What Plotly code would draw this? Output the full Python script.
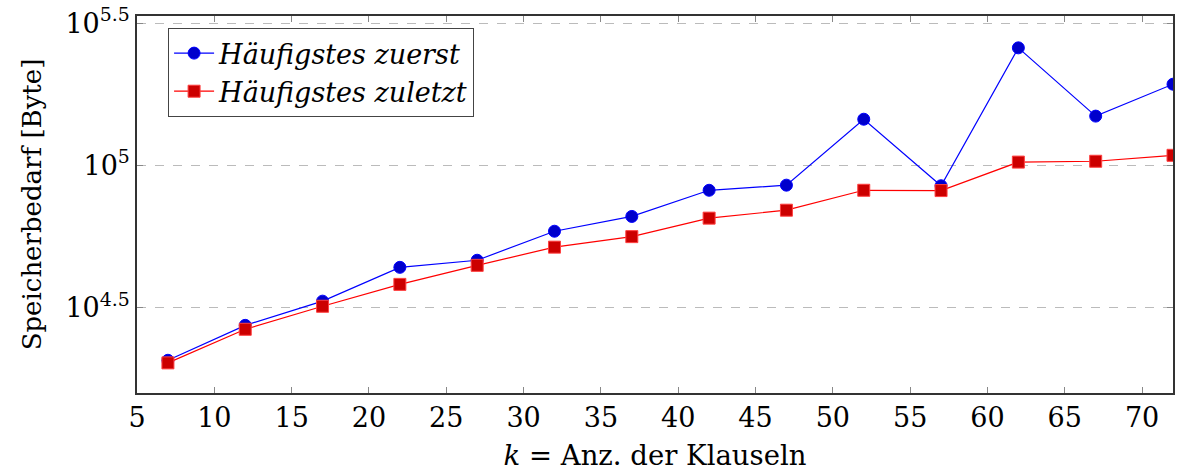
import numpy as np
import plotly.graph_objects as go

k_values = [7, 12, 17, 22, 27, 32, 37, 42, 47, 52, 57, 62, 67, 72]
zuerst_bytes = [20610, 27350, 33270, 43750, 46340, 58610, 66070, 81660, 85110,
                145200, 84720, 258800, 148900, 192800]
zuletzt_bytes = [20180, 26490, 31920, 38110, 44460, 51520, 56100, 65160, 69500,
                 81660, 81470, 102600, 103300, 108400]
series_names = ["Häufigstes zuerst", "Häufigstes zuletzt"]
y_tick_exponents = ["4.5", "5", "5.5"]
x_tick_values = [5, 10, 15, 20, 25, 30, 35, 40, 45, 50, 55, 60, 65, 70]

FONT = "DejaVu Serif"
W, H = 1177, 476
ml, mr, mt, mb = 137, 2, 16, 83

fig = go.Figure()
fig.add_trace(go.Scatter(
    x=k_values, y=zuerst_bytes, mode="lines+markers", name=series_names[0],
    line=dict(color="#0000ff", width=1.2),
    marker=dict(symbol="circle", size=12, color="#0000cc",
                line=dict(color="#0000ff", width=1)),
))
fig.add_trace(go.Scatter(
    x=k_values, y=zuletzt_bytes, mode="lines+markers", name=series_names[1],
    line=dict(color="#ff0000", width=1.2),
    marker=dict(symbol="square", size=12, color="#cc0000",
                line=dict(color="#ff4040", width=1)),
))

ytickvals = [10 ** float(e) for e in y_tick_exponents]
yticktext = ["10<sup>%s</sup>" % e for e in y_tick_exponents]

fig.update_layout(
    width=W, height=H,
    margin=dict(l=ml, r=mr, t=mt, b=mb),
    paper_bgcolor="white", plot_bgcolor="white",
    font=dict(family=FONT, size=26, color="black"),
    showlegend=True,
    legend=dict(
        x=0.03, y=0.968, xanchor="left", yanchor="top",
        bgcolor="white", bordercolor="#444444", borderwidth=1,
        font=dict(family=FONT, size=27, style="italic"),
        tracegroupgap=0, itemwidth=40,
    ),
    xaxis=dict(
        range=[5, 72], tickvals=x_tick_values,
        ticks="inside", ticklen=6, tickcolor="#888888", tickwidth=1,
        showline=True, linecolor="#333333", linewidth=1.5, mirror="allticks",
        showgrid=False, zeroline=False,
        tickfont=dict(family=FONT, size=27),
        title=dict(text="<i>k</i> = Anz. der Klauseln",
                   font=dict(family=FONT, size=27.5), standoff=14),
    ),
    yaxis=dict(
        type="log", range=[4.199, 5.525],
        tickvals=ytickvals, ticktext=yticktext,
        ticks="inside", ticklen=6, tickcolor="#888888", tickwidth=1,
        showline=True, linecolor="#333333", linewidth=1.5, mirror="allticks",
        showgrid=True, gridcolor="#bbbbbb", griddash="dash", gridwidth=1,
        zeroline=False,
        tickfont=dict(family=FONT, size=27),
        title=dict(text="Speicherbedarf [Byte]",
                   font=dict(family=FONT, size=26), standoff=16),
    ),
)

fig.write_html("out.html")
